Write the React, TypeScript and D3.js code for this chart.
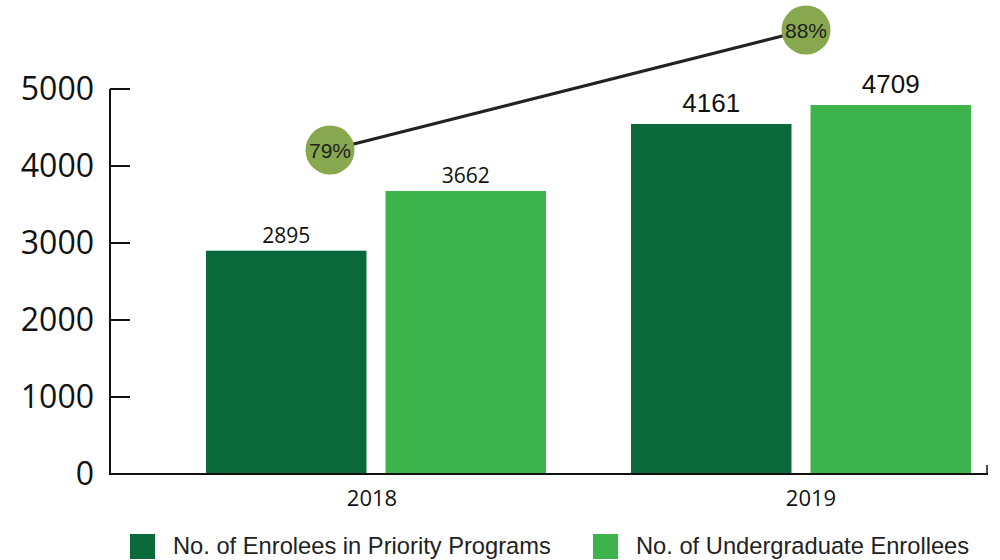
import React from "react";
import * as d3 from "d3";

const years = ["2018", "2019"];
const seriesNames = ["No. of Enrolees in Priority Programs", "No. of Undergraduate Enrollees"];
const seriesKeys = ["priority", "undergrad"];
// bar heights as drawn in the picture
const priorityBars = [2900, 4545];
const undergradBars = [3675, 4792];
// value labels as printed
const priorityLabels = ["2895", "4161"];
const undergradLabels = ["3662", "4709"];
const percentValues = [79, 88];
const percentLabels = ["79%", "88%"];
const yTicks = [0, 1000, 2000, 3000, 4000, 5000];

const colors = ["#0a693b", "#3db34c"];

export default function App() {
  const W = 1000, H = 560;
  const y = d3.scaleLinear().domain([0, 5000]).range([474, 89]);
  const step = 425;
  const pin = 0.2;
  const pout = 0.2;
  const r0 = 206 - step * pout;
  const x0 = d3.scaleBand().domain(years).range([r0, r0 + step * (2 - pin + 2 * pout)]).paddingInner(pin).paddingOuter(pout);
  const x1 = d3.scaleBand().domain(seriesKeys).range([0, x0.bandwidth()]).paddingInner(0.106);
  const pY = d3.scaleLinear().domain([79, 88]).range([150, 30]);
  const pX = d3.scalePoint().domain(years).range([330, 806]);

  const barVals = [priorityBars, undergradBars];
  const barLabels = [priorityLabels, undergradLabels];
  const labelFont = [
    { family: "'Open Sans', sans-serif", size: 21, dy: -8 },
    { family: "'Liberation Sans', Arial, sans-serif", size: 26, dy: -12 },
  ];

  const line = d3.line<number>()
    .x((_, i) => pX(years[i]) as number)
    .y((d) => pY(d));

  return (
    <svg width={W} height={H} style={{ position: "absolute", left: 0, top: 0, background: "#fff" }}>
      {/* bars */}
      {years.map((yr, yi) => (
        <g key={yr} transform={`translate(${x0(yr)},0)`}>
          {seriesKeys.map((k, si) => {
            const v = barVals[si][yi];
            const bx = x1(k) as number;
            const bw = x1.bandwidth();
            const f = labelFont[yi];
            return (
              <g key={k}>
                <rect x={bx} y={y(v)} width={bw} height={y(0) - y(v)} fill={colors[si]} />
                <text
                  x={bx + bw / 2}
                  y={y(v) + f.dy}
                  textAnchor="middle"
                  fontFamily={f.family}
                  fontSize={f.size}
                  fill="#111"
                >
                  {barLabels[si][yi]}
                </text>
              </g>
            );
          })}
        </g>
      ))}

      {/* y axis */}
      <line x1={110} x2={110} y1={y(5000)} y2={y(0)} stroke="#111" strokeWidth={2} />
      {yTicks.map((t) => (
        <g key={t}>
          <line x1={110} x2={130} y1={y(t)} y2={y(t)} stroke="#111" strokeWidth={2} />
          <text
            x={94}
            y={y(t) + 11}
            textAnchor="end"
            fontFamily="'Open Sans', sans-serif"
            fontSize={32}
            fill="#111"
          >
            {t}
          </text>
        </g>
      ))}

      {/* x axis */}
      <line x1={109} x2={988} y1={y(0)} y2={y(0)} stroke="#111" strokeWidth={2} />
      <line x1={987} x2={987} y1={y(0)} y2={y(0) - 9} stroke="#111" strokeWidth={1.5} />
      {years.map((yr, i) => (
        <text
          key={yr}
          x={(x0(yr) as number) + x0.bandwidth() / 2 + (i === 0 ? -4 : 10)}
          y={506}
          textAnchor="middle"
          fontFamily="'Open Sans', sans-serif"
          fontSize={22}
          fill="#111"
        >
          {yr}
        </text>
      ))}

      {/* percent line */}
      <path d={line(percentValues) || ""} fill="none" stroke="#222" strokeWidth={3} />
      {percentValues.map((p, i) => (
        <g key={i}>
          <circle cx={pX(years[i])} cy={pY(p)} r={24.5} fill="#88a84f" />
          <text
            x={pX(years[i])}
            y={pY(p) + 7.5}
            textAnchor="middle"
            fontFamily="'Liberation Sans', Arial, sans-serif"
            fontSize={21}
            fill="#222"
          >
            {percentLabels[i]}
          </text>
        </g>
      ))}

      {/* legend */}
      {seriesNames.map((n, i) => {
        const lx = i === 0 ? 130 : 593;
        return (
          <g key={n}>
            <rect x={lx} y={534} width={25} height={25} fill={colors[i]} />
            <text
              x={lx + 43}
              y={554}
              fontFamily="'Liberation Sans', Arial, sans-serif"
              fontSize={23.7}
              fill="#222"
            >
              {n}
            </text>
          </g>
        );
      })}
    </svg>
  );
}
